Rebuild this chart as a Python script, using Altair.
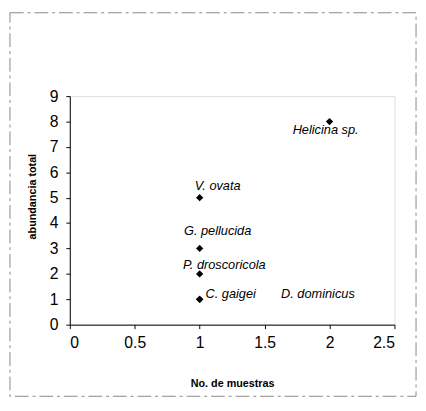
import altair as alt
import pandas as pd

species = ["Helicina sp.", "V. ovata", "G. pellucida", "P. droscoricola", "C. gaigei", "D. dominicus"]
muestras = [2, 1, 1, 1, 1, 1]
abundancia = [8, 5, 3, 2, 1, 1]

x_ticks = [0, 0.5, 1, 1.5, 2, 2.5]
y_ticks = [0, 1, 2, 3, 4, 5, 6, 7, 8, 9]

df = pd.DataFrame({"especie": species, "muestras": muestras, "abundancia": abundancia})

FONT = "Liberation Sans"

# label placement styles (pixel offsets relative to each point)
label_style = {
    "Helicina sp.": dict(dx=-4, dy=9, align="center"),
    "V. ovata": dict(dx=-5, dy=-12, align="left"),
    "G. pellucida": dict(dx=-16, dy=-18, align="left"),
    "P. droscoricola": dict(dx=-17, dy=-9, align="left"),
    "C. gaigei": dict(dx=6, dy=-5, align="left"),
    "D. dominicus": dict(dx=83, dy=-5, align="left"),
}

xs = alt.X("muestras:Q", scale=alt.Scale(domain=[0, 2.5], nice=False, zero=True),
           axis=alt.Axis(title="No. de muestras", values=x_ticks, format="~g", grid=False,
                         labelFontSize=16, labelPadding=6, tickSize=4, labelOverlap=False,
                         titleFontSize=11, titleFontWeight="bold", titlePadding=28,
                         domainColor="black", tickColor="black", labelColor="black",
                         titleColor="black", labelFont=FONT, titleFont=FONT))
ys = alt.Y("abundancia:Q", scale=alt.Scale(domain=[0, 9], nice=False),
           axis=alt.Axis(title="abundancia total", values=y_ticks, grid=False,
                         labelFontSize=16, labelPadding=8, tickSize=4, labelOverlap=False,
                         titleFontSize=11, titleFontWeight="bold", titlePadding=12,
                         titleY=102,
                         domainColor="black", tickColor="black", labelColor="black",
                         titleColor="black", labelFont=FONT, titleFont=FONT))

frame = alt.Chart(pd.DataFrame({"a": [0]})).mark_rect(
    fill=None, stroke="#888888", strokeWidth=1, strokeDash=[14, 4, 3, 4], clip=False
).encode(x=alt.value(-61), x2=alt.value(353), y=alt.value(-85), y2=alt.value(306))

points = alt.Chart(df).mark_point(shape="diamond", filled=True, color="black", size=55, opacity=1).encode(
    x=xs, y=ys
)

layers = [points]
for name in species:
    st = label_style[name]
    layers.append(
        alt.Chart(df[df["especie"] == name]).mark_text(
            font=FONT, fontSize=13, fontStyle="italic", color="black", baseline="middle", **st
        ).encode(x=xs, y=ys, text="especie:N")
    )
layers.append(frame)

chart = alt.layer(*layers).properties(
    width=331, height=233,
    autosize=alt.AutoSizeParams(type="none"),
    padding={"left": 63, "top": 86, "right": 24, "bottom": 75},
).configure_view(stroke=None).configure(background="white")

chart.save("out.html", embed_options={"renderer": "svg", "actions": False})
